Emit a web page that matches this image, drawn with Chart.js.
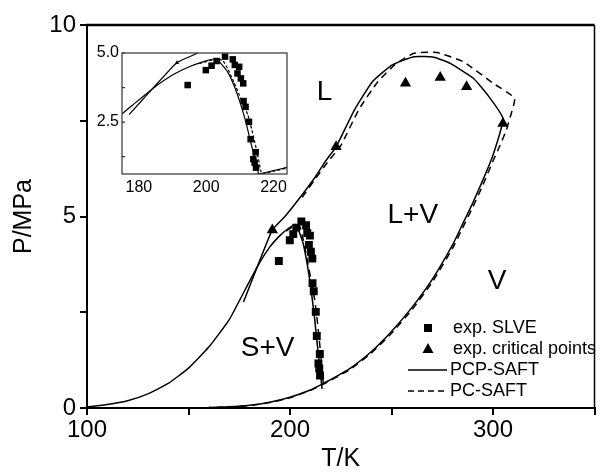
<!DOCTYPE html>
<html>
<head>
<meta charset="utf-8">
<script src="https://cdn.jsdelivr.net/npm/chart.js@4.4.1/dist/chart.umd.min.js"></script>
<style>
  html, body { margin: 0; padding: 0; background: #fff; }
  #wrap { position: relative; width: 601px; height: 474px; }
  #main { position: absolute; left: 0; top: 0; width: 601px; height: 474px; }
  #inset { position: absolute; left: 50px; top: 40px; width: 250px; height: 165px; }
</style>
</head>
<body>
<div id="wrap">
  <canvas id="main" width="601" height="474"></canvas>
  <canvas id="inset" width="250" height="165"></canvas>
</div>
<script>
Chart.defaults.font.family = 'Arial, "Liberation Sans", sans-serif';
Chart.defaults.color = '#000';

// exp. SLVE
const slveT = [194.5, 199.9, 201.6, 203.1, 205.6, 207.9, 208.5, 209.8, 209.3, 210.3, 211.0, 211.1, 211.7, 212.7, 213.2, 214.7, 214.0, 214.4, 214.8];
const slveP = [3.84, 4.38, 4.54, 4.71, 4.87, 4.77, 4.57, 4.50, 4.26, 4.08, 3.90, 3.26, 3.05, 2.51, 1.88, 1.41, 1.16, 1.03, 0.85];

// exp. critical points
const critT = [191.3, 222.7, 256.9, 274.0, 287.0, 304.9];
const critP = [4.65, 6.82, 8.48, 8.63, 8.39, 7.43];

// PCP-SAFT: three phase line + melting branch
const pcpSlveT = [100, 110, 120, 130, 140, 150, 160, 170, 178, 184, 190, 195, 199, 202.9, 206.4, 208.5, 210.3, 212, 213.2, 214.5, 215.8];
const pcpSlveP = [0.03, 0.09, 0.19, 0.37, 0.64, 1.04, 1.59, 2.3, 3.1, 3.7, 4.2, 4.5, 4.68, 4.79, 4.31, 3.75, 3.12, 2.4, 1.78, 1.15, 0.5];
// PCP-SAFT: critical line + vapour pressure branch
const pcpEnvT = [177.1, 184, 191.3, 197.5, 204, 212, 217.8, 222.7, 231.7, 240.6, 250.4, 261, 270.8, 278.9, 290.3, 297, 304.9, 300, 295, 290, 285, 280, 270, 260, 250, 240, 230, 224, 220, 216, 210, 200, 190, 180, 170, 160];
const pcpEnvP = [2.77, 3.7, 4.65, 5.0, 5.43, 6.0, 6.47, 6.82, 7.78, 8.52, 8.96, 9.17, 9.16, 9.0, 8.61, 8.2, 7.56, 6.6, 5.95, 5.35, 4.8, 4.25, 3.35, 2.62, 2.0, 1.47, 1.05, 0.86, 0.74, 0.63, 0.47, 0.28, 0.15, 0.07, 0.03, 0.01];

// PC-SAFT
const pcSlveT = [198, 201, 203.5, 205, 206.5, 208.2, 210.3, 212.4, 214, 215.3, 216.2, 216.8];
const pcSlveP = [4.62, 4.72, 4.78, 4.72, 4.4, 3.95, 3.35, 2.75, 2.0, 1.3, 0.75, 0.5];
const pcEnvT = [206, 212, 219, 225, 234, 243, 252, 261, 272.4, 285.4, 300, 310.6, 308.5, 306.5, 303, 300, 295, 290, 285, 280, 270, 260, 250, 240, 230, 224, 220, 216, 210, 200, 190, 180, 170, 160];
const pcEnvP = [5.5, 5.95, 6.45, 6.85, 7.8, 8.5, 8.98, 9.26, 9.28, 9.04, 8.48, 8.09, 7.6, 7.25, 6.8, 6.45, 5.82, 5.24, 4.7, 4.16, 3.28, 2.56, 1.95, 1.43, 1.02, 0.84, 0.72, 0.61, 0.46, 0.27, 0.14, 0.065, 0.025, 0.01];

// ticks
const xTicks = [100, 150, 200, 250, 300, 350];
const xLabels = [100, 200, 300];
const yTicks = [0, 2.5, 5, 7.5, 10];
const yLabels = [0, 5, 10];
const insetXTicks = [180, 200, 220];
const insetYTicks = [1.25, 2.5, 3.75, 5];
const insetYLabels = [2.5, 5];

// region names
const regionText = ['L', 'L+V', 'V', 'S+V'];
const regionT = [217, 260.5, 302, 189];
const regionP = [8.25, 5.04, 3.3, 1.57];

function pts(T, P) {
  return T.map((t, i) => ({x: t, y: P[i]}));
}

function makeDatasets(sq, tri, lw, dash) {
  return [
    {label: 'exp. SLVE', data: pts(slveT, slveP), pointStyle: 'rect', pointRadius: sq,
     backgroundColor: '#000', borderColor: '#000', pointBorderWidth: 0, showLine: false},
    {label: 'exp. critical points', data: pts(critT, critP), pointStyle: 'triangle', pointRadius: tri,
     backgroundColor: '#000', borderColor: '#000', pointBorderWidth: 0, showLine: false},
    {label: 'PCP-SAFT', data: pts(pcpSlveT, pcpSlveP), showLine: true, pointRadius: 0,
     borderColor: '#000', borderWidth: lw, tension: 0.15},
    {label: 'PCP-SAFT', data: pts(pcpEnvT, pcpEnvP), showLine: true, pointRadius: 0,
     borderColor: '#000', borderWidth: lw, tension: 0.15},
    {label: 'PC-SAFT', data: pts(pcSlveT, pcSlveP), showLine: true, pointRadius: 0,
     borderColor: '#000', borderWidth: lw, borderDash: dash, tension: 0.15},
    {label: 'PC-SAFT', data: pts(pcEnvT, pcEnvP), showLine: true, pointRadius: 0,
     borderColor: '#000', borderWidth: lw, borderDash: dash, tension: 0.15}
  ];
}

const frame = {
  id: 'frame',
  afterDraw(chart) {
    const ctx = chart.ctx;
    const a = chart.chartArea;
    const xs = chart.scales.x, ys = chart.scales.y;
    ctx.save();
    ctx.strokeStyle = '#000';
    ctx.lineWidth = 2.5;
    ctx.beginPath(); ctx.moveTo(a.left - 1, a.top); ctx.lineTo(a.right, a.top); ctx.stroke();
    ctx.lineWidth = 1.5;
    ctx.beginPath(); ctx.moveTo(a.right, a.top); ctx.lineTo(a.right, a.bottom); ctx.stroke();

    // region names
    ctx.fillStyle = '#000';
    ctx.font = '28px Arial, "Liberation Sans", sans-serif';
    ctx.textAlign = 'center';
    ctx.textBaseline = 'middle';
    regionText.forEach((t, i) => {
      ctx.fillText(t, xs.getPixelForValue(regionT[i]), ys.getPixelForValue(regionP[i]));
    });

    // legend
    ctx.font = '18px Arial, "Liberation Sans", sans-serif';
    ctx.textAlign = 'left';
    const rows = [328, 349, 370, 391];
    ctx.fillRect(424, rows[0] - 4, 8, 8);
    ctx.fillText('exp. SLVE', 453, rows[0]);
    ctx.beginPath();
    ctx.moveTo(428, rows[1] - 6); ctx.lineTo(433.5, rows[1] + 4); ctx.lineTo(422.5, rows[1] + 4);
    ctx.closePath(); ctx.fill();
    ctx.fillText('exp. critical points', 453, rows[1]);
    ctx.lineWidth = 1.5;
    ctx.beginPath(); ctx.moveTo(408, rows[2]); ctx.lineTo(447, rows[2]); ctx.stroke();
    ctx.fillText('PCP-SAFT', 450, rows[2]);
    ctx.setLineDash([6, 4]);
    ctx.beginPath(); ctx.moveTo(408, rows[3]); ctx.lineTo(447, rows[3]); ctx.stroke();
    ctx.setLineDash([]);
    ctx.fillText('PC-SAFT', 450, rows[3]);
    ctx.restore();
  }
};

new Chart(document.getElementById('main'), {
  type: 'scatter',
  data: {datasets: makeDatasets(5.6, 6.5, 1.5, [7, 5])},
  options: {
    responsive: false,
    animation: false,
    layout: {padding: {top: 25, right: 2, left: 0, bottom: 0}},
    plugins: {legend: {display: false}, tooltip: {enabled: false}},
    scales: {
      x: {
        type: 'linear', min: 100, max: 350,
        afterBuildTicks: s => { s.ticks = xTicks.map(v => ({value: v})); },
        afterFit: s => { s.height = 66; },
        grid: {drawOnChartArea: false, drawTicks: true, tickLength: 7, color: '#000', lineWidth: 2},
        border: {display: true, color: '#000', width: 2},
        ticks: {font: {size: 24}, padding: 1, maxRotation: 0, autoSkip: false,
                callback: v => xLabels.includes(v) ? String(v) : ''},
        title: {display: true, text: 'T/K', font: {size: 25}, padding: 0}
      },
      y: {
        type: 'linear', min: 0, max: 10,
        afterBuildTicks: s => { s.ticks = yTicks.map(v => ({value: v})); },
        afterFit: s => { s.width = 87; },
        grid: {drawOnChartArea: false, drawTicks: true, tickLength: 7, color: '#000', lineWidth: 2},
        border: {display: true, color: '#000', width: 2},
        ticks: {font: {size: 24}, padding: 4, autoSkip: false,
                callback: v => yLabels.includes(v) ? String(v) : ''},
        title: {display: true, text: 'P/MPa', font: {size: 25}, padding: {top: 9, bottom: 0}}
      }
    }
  },
  plugins: [frame]
});

const insetBox = {
  id: 'insetBox',
  beforeDraw(chart) {
    const ctx = chart.ctx, a = chart.chartArea;
    ctx.save();
    ctx.fillStyle = '#fff';
    ctx.fillRect(a.left, a.top, a.right - a.left, a.bottom - a.top);
    ctx.restore();
  },
  afterDraw(chart) {
    const ctx = chart.ctx, a = chart.chartArea, ys = chart.scales.y;
    ctx.save();
    ctx.strokeStyle = '#333';
    ctx.lineWidth = 1.2;
    ctx.strokeRect(a.left, a.top, a.right - a.left, a.bottom - a.top);
    ctx.beginPath();
    insetYTicks.forEach(v => {
      const y = ys.getPixelForValue(v);
      ctx.moveTo(a.left, y); ctx.lineTo(a.left + 3, y);
    });
    ctx.stroke();
    ctx.restore();
  }
};

new Chart(document.getElementById('inset'), {
  type: 'scatter',
  data: {datasets: makeDatasets(4.6, 2.5, 1.2, [3, 2])},
  options: {
    responsive: false,
    animation: false,
    layout: {padding: {top: 13, right: 13, left: 0, bottom: 0}},
    plugins: {legend: {display: false}, tooltip: {enabled: false}},
    scales: {
      x: {
        type: 'linear', min: 175, max: 224,
        afterBuildTicks: s => { s.ticks = insetXTicks.map(v => ({value: v})); },
        afterFit: s => { s.height = 31; },
        grid: {display: false, drawTicks: false},
        border: {display: false},
        ticks: {font: {size: 16}, padding: 4, maxRotation: 0, autoSkip: false}
      },
      y: {
        type: 'linear', min: 0.62, max: 5,
        afterBuildTicks: s => { s.ticks = insetYTicks.map(v => ({value: v})); },
        afterFit: s => { s.width = 72; },
        grid: {display: false, drawTicks: false},
        border: {display: false},
        ticks: {font: {size: 16}, padding: 3, autoSkip: false,
                callback: v => insetYLabels.includes(v) ? v.toFixed(1) : ''}
      }
    }
  },
  plugins: [insetBox]
});
</script>
</body>
</html>
